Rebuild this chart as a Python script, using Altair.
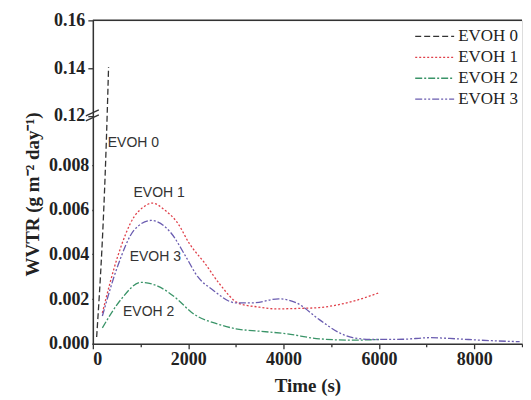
import altair as alt
import pandas as pd

# ---- data ----
series = ["EVOH 0", "EVOH 1", "EVOH 2", "EVOH 3"]

evoh0_t = [80, 300, 330]
evoh0_v = [0.0003, 0.12, 0.1405]

evoh1_t = [200, 520, 870, 1050, 1250, 1500, 1780, 2020, 2350, 2650, 3070, 3450, 3850, 4300, 4750, 5450, 6000]
evoh1_v = [0.00138, 0.0039, 0.0057, 0.0061, 0.0063, 0.0060, 0.0054, 0.0045, 0.0036, 0.0027, 0.0018, 0.00165,
           0.00156, 0.00158, 0.00162, 0.0019, 0.00228]

evoh2_t = [200, 590, 1010, 1360, 1780, 2060, 2650, 3000, 3500, 4050, 4750, 5450, 6000]
evoh2_v = [0.00071, 0.00198, 0.00275, 0.00258, 0.00198, 0.00142, 0.00086, 0.00067, 0.00056, 0.00045,
           0.00022, 0.00016, 0.00019]

evoh3_t = [200, 520, 870, 1220, 1640, 1950, 2200, 2510, 3000, 3350, 3900, 4270, 4750, 5170, 5450, 5870,
           6500, 7060, 7620, 8120, 8950]
evoh3_v = [0.00124, 0.00347, 0.0051, 0.00552, 0.00496, 0.0039, 0.0030, 0.00242, 0.00183, 0.00183, 0.00201,
           0.00183, 0.00108, 0.00049, 0.00027, 0.00019, 0.0002, 0.00027, 0.00022, 0.00016, 0.00009]

label_text = ["EVOH 0", "EVOH 1", "EVOH 3", "EVOH 2"]
label_t = [850, 1390, 1310, 1170]
label_v = [0.00897, 0.00674, 0.00388, 0.00143]

colors = ["#333333", "#e0404a", "#3a9468", "#6a5cb0"]
dashes = [[6, 3], [2, 2], [7, 2, 2, 2], [7, 2, 2, 2, 2, 2]]

lower_major = [0.0, 0.002, 0.004, 0.006, 0.008]
lower_minor = [0.001, 0.003, 0.005, 0.007, 0.009]
upper_major = [0.12, 0.14, 0.16]
upper_minor = [0.13, 0.15]

# ---- broken axis mapping ----
B = 0.0102      # top of lower segment
U0 = 0.12       # bottom of upper segment
K = 0.107       # compression of upper segment


def tr(v):
    if v <= B:
        return v
    return B + (v - U0) * K


TOP = tr(0.16)

rows = []
for name, ts, vs in [("EVOH 0", evoh0_t, evoh0_v), ("EVOH 1", evoh1_t, evoh1_v),
                     ("EVOH 2", evoh2_t, evoh2_v), ("EVOH 3", evoh3_t, evoh3_v)]:
    for i, (t, v) in enumerate(zip(ts, vs)):
        rows.append({"series": name, "t": t, "v": v, "order": i})
df = pd.DataFrame(rows)
lab = pd.DataFrame({"text": label_text, "t": label_t, "v": label_v})
leg = pd.DataFrame({"series": series})

calc = f"datum.v <= {B} ? datum.v : (datum.v >= {U0} ? {B} + (datum.v - {U0}) * {K} : {B})"

W, H = 430, 324
serif = "Liberation Serif"

y_values = sorted([tr(v) for v in lower_major + lower_minor + upper_major + upper_minor])
major_test = (f"datum.value < {B - 0.0001} ? (round(datum.value * 1000) % 2 == 0) : "
              f"(round((datum.value - {B}) / {K} * 100) % 2 == 0)")
y_label = (f"datum.value < {B - 0.0001} ? "
           f"(round(datum.value * 1000) % 2 == 0 ? format(datum.value, '.3f') : '') : "
           f"(round((datum.value - {B}) / {K} * 100) % 2 == 0 ? format({U0} + (datum.value - {B}) / {K}, '.2f') : '')")

x_scale = alt.Scale(domain=[0, 9000], nice=False, zero=False)
y_scale = alt.Scale(domain=[0, TOP], nice=False, zero=False)
color_scale = alt.Scale(domain=series, range=colors)
dash_scale = alt.Scale(domain=series, range=dashes)

x_axis = alt.Axis(
    values=list(range(0, 9001, 1000)),
    labelExpr="datum.value % 2000 === 0 ? format(datum.value, 'd') : ''",
    title="Time (s)", grid=False,
    tickSize={"condition": {"test": "datum.value % 2000 === 0", "value": 5}, "value": 3},
    labelFont=serif, labelFontWeight="bold", labelFontSize=18, labelColor="#222",
    titleFont=serif, titleFontWeight="bold", titleFontSize=19, titleColor="#222",
    labelPadding=2, titlePadding=8,
    domainColor="#333", domainWidth=1.5, tickColor="#333", tickWidth=1.3,
)
y_axis = alt.Axis(
    values=y_values, labelExpr=y_label,
    title="WVTR (g m⁻² day⁻¹)", grid=False,
    tickSize={"condition": {"test": major_test, "value": 5}, "value": 3},
    labelFont=serif, labelFontWeight="bold", labelFontSize=18, labelColor="#222",
    titleFont=serif, titleFontWeight="bold", titleFontSize=19, titleColor="#222",
    labelPadding=3, titlePadding=6, labelOverlap=False, titleY=174,
    domainColor="#333", domainWidth=1.5, tickColor="#333", tickWidth=1.3,
)

lines = alt.Chart(df).transform_calculate(yt=calc).mark_line(
    strokeWidth=1.3, interpolate="monotone", clip=True
).encode(
    x=alt.X("t:Q", scale=x_scale, axis=x_axis),
    y=alt.Y("yt:Q", scale=y_scale, axis=y_axis),
    color=alt.Color("series:N", scale=color_scale, legend=None),
    strokeDash=alt.StrokeDash("series:N", scale=dash_scale, legend=None),
    order="order:Q",
    detail="series:N",
)

texts = alt.Chart(lab).transform_calculate(yt=calc).mark_text(
    font="Liberation Sans", fontSize=14, color="#333"
).encode(
    x=alt.X("t:Q", scale=x_scale),
    y=alt.Y("yt:Q", scale=y_scale),
    text="text:N",
)

top_rule = alt.Chart(pd.DataFrame({"a": [0]})).mark_rule(color="#333", strokeWidth=1.5).encode(
    y=alt.datum(TOP), x=alt.value(0), x2=alt.value(W)
)
brk1 = alt.Chart(pd.DataFrame({"a": [0]})).mark_rule(
    color="#333", strokeWidth=1.3, yOffset=0, y2Offset=-6
).encode(y=alt.datum(B), y2=alt.datum(B), x=alt.value(-7), x2=alt.value(6))
brk2 = alt.Chart(pd.DataFrame({"a": [0]})).mark_rule(
    color="#333", strokeWidth=1.3, yOffset=5, y2Offset=-1
).encode(y=alt.datum(B), y2=alt.datum(B), x=alt.value(-7), x2=alt.value(6))

main = alt.layer(lines, texts, top_rule, brk1, brk2)

# legend drawn as its own layer with a point scale for the rows
leg_y = alt.Y("series:N", scale=alt.Scale(type="point", domain=series, range=[16, 79], padding=0), axis=None)
leg_lines = alt.Chart(leg).mark_rule(strokeWidth=1.3).encode(
    y=leg_y, x=alt.value(323), x2=alt.value(362),
    color=alt.Color("series:N", scale=color_scale, legend=None),
    strokeDash=alt.StrokeDash("series:N", scale=dash_scale, legend=None),
)
leg_text = alt.Chart(leg).mark_text(
    font=serif, fontSize=17, color="#222", align="left", baseline="middle"
).encode(y=leg_y, x=alt.value(366), text="series:N")
legend_layer = alt.layer(leg_lines, leg_text)

chart = alt.layer(main, legend_layer).resolve_scale(y="independent").properties(
    width=W, height=H, padding={"left": 15, "top": 3, "right": 0, "bottom": 5}
).configure_view(stroke=None).configure(background="white")

chart.save("out.html", embed_options={"renderer": "svg", "actions": False})
